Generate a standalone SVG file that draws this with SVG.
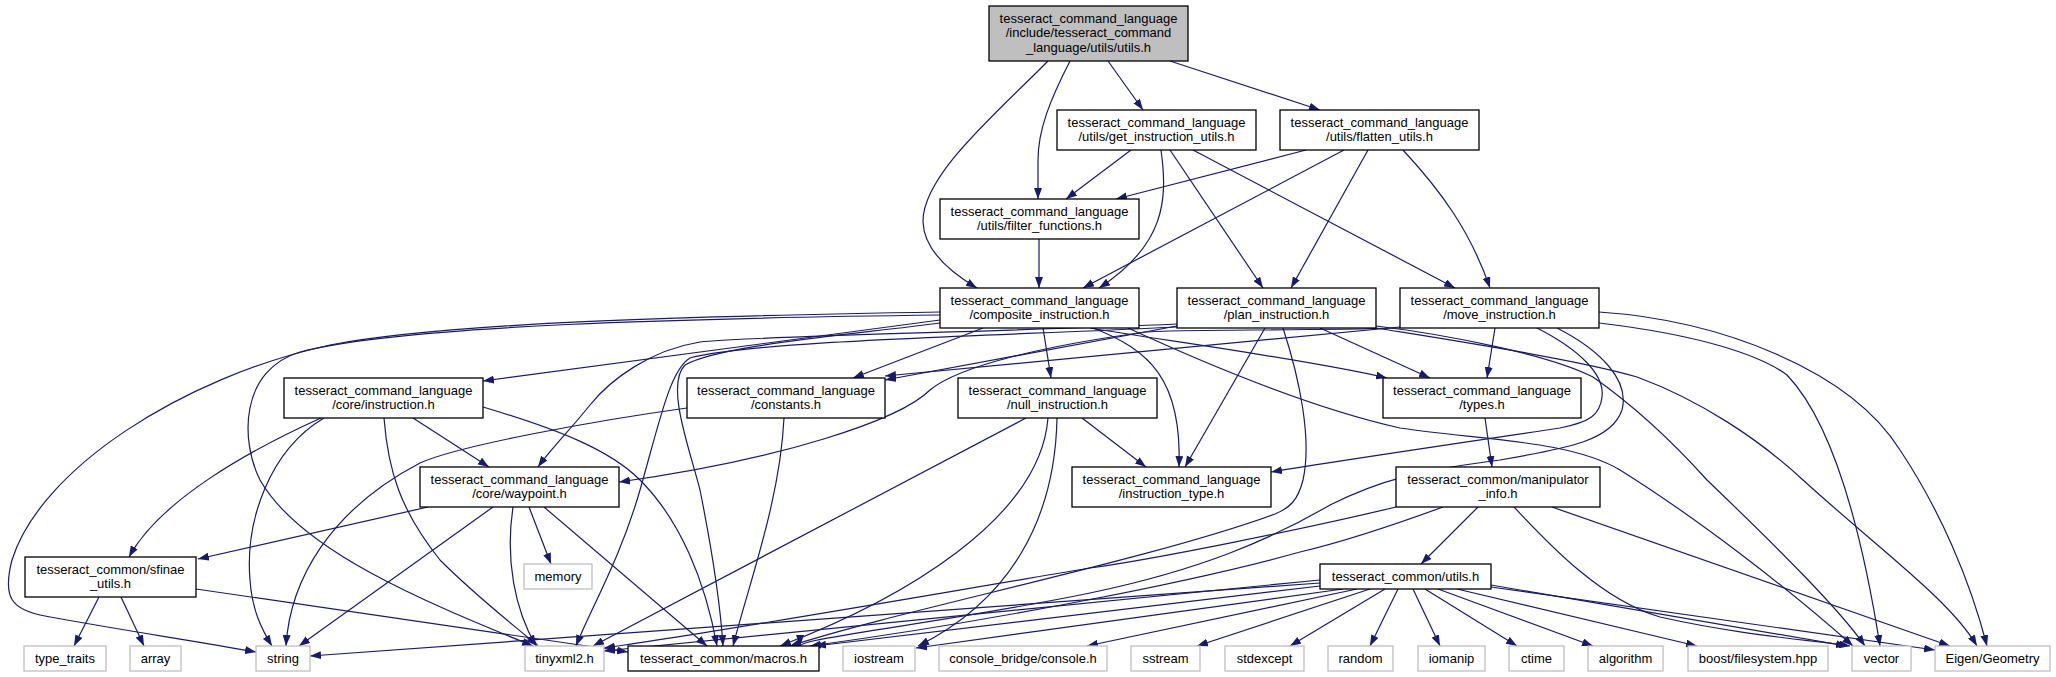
<svg xmlns="http://www.w3.org/2000/svg" width="2056" height="677" viewBox="0 0 2056 677">
<defs>
<marker id="ah" markerWidth="11" markerHeight="8" refX="11" refY="4" orient="auto" markerUnits="userSpaceOnUse"><path d="M0,0 L11,4 L0,8 z" fill="#191970"/></marker>
<style>
.n rect{fill:#fff;stroke:#000;stroke-width:1.3}
.g rect{fill:#fff;stroke:#bfbfbf;stroke-width:1.3}
.r rect{fill:#bfbfbf;stroke:#000;stroke-width:1.3}
text{font-family:"Liberation Sans",Arial,sans-serif;font-size:13px;fill:#000;text-anchor:middle}
#edges path{fill:none;stroke:#191970;stroke-width:1.2;marker-end:url(#ah)}
</style>
</defs>
<rect width="2056" height="677" fill="#fff"/>
<g id="edges">
<path d="M1048,61 C1000,110 922,175 923,222 C924,250 950,272 977,288"/>
<path d="M1070,61 C1050,100 1038,130 1038,160 L1038,199"/>
<path d="M1108,61 L1143,110"/>
<path d="M1170,61 L1320,110"/>
<path d="M1131,150 L1066,199"/>
<path d="M1161,150 C1168,200 1165,245 1099,288"/>
<path d="M1170,150 L1263,288"/>
<path d="M1193,150 L1455,288"/>
<path d="M1306,150 L1116,199"/>
<path d="M1344,150 L1083,288"/>
<path d="M1368,150 L1291,288"/>
<path d="M1403,150 C1440,190 1470,230 1490,288"/>
<path d="M1039,239 L1039,288"/>
<path d="M940,320 L483,381"/>
<path d="M983,328 L853,378"/>
<path d="M1043,328 L1051,378"/>
<path d="M1090,328 C1160,340 1300,358 1387,378"/>
<path d="M1093,328 C1150,350 1182,380 1179,467"/>
<path d="M940,312 C700,316 450,322 330,345 C180,378 40,470 12,560 C2,598 12,610 45,616 C120,630 190,640 256,652"/>
<path d="M940,315 C700,318 400,325 300,352 C240,370 240,440 260,480 C300,550 420,600 533,646"/>
<path d="M940,323 C850,335 720,345 685,365 C665,385 690,450 700,490 C712,550 720,600 723,646"/>
<path d="M1128,328 C1230,375 1320,410 1400,428 C1480,440 1570,440 1620,470 C1700,520 1790,590 1853,646"/>
<path d="M1320,328 L1430,378"/>
<path d="M1265,328 L1185,467"/>
<path d="M1177,326 L885,380"/>
<path d="M1177,324 C1000,332 750,336 700,342 C650,350 610,380 590,405 C570,430 550,450 538,467"/>
<path d="M1177,327 C1000,336 760,340 690,358 C670,370 660,420 640,490 C620,560 590,610 576,646"/>
<path d="M1283,328 C1300,380 1312,440 1303,480 C1298,500 1290,508 1275,514 C1150,560 900,610 790,646"/>
<path d="M1376,328 C1450,340 1580,360 1637,377 C1700,400 1760,440 1803,480 C1880,550 1950,600 1977,646"/>
<path d="M1376,326 C1450,335 1550,355 1593,377 C1640,410 1680,450 1707,480 C1780,550 1840,610 1865,646"/>
<path d="M1400,327 L885,376"/>
<path d="M1400,328 C1300,331 1180,329 1146,332 C1050,345 960,365 930,390 C900,420 780,460 619,482"/>
<path d="M1495,328 L1487,378"/>
<path d="M1537,328 C1580,350 1605,375 1602,397 C1600,415 1590,422 1560,428 C1480,440 1330,462 1271,472"/>
<path d="M1557,328 C1600,350 1630,380 1622,410 C1612,440 1570,448 1500,460 C1420,470 1380,480 1330,505 C1270,540 1200,570 1090,593 C950,622 800,638 800,646"/>
<path d="M1599,323 C1700,335 1760,355 1787,375 C1830,420 1860,520 1880,646"/>
<path d="M1599,312 C1720,320 1850,370 1900,450 C1940,510 1970,580 1987,646"/>
<path d="M1485,418 L1492,467"/>
<path d="M1048,418 C1040,520 900,600 780,646"/>
<path d="M1026,418 L593,646"/>
<path d="M1057,418 C1055,520 1010,600 918,646"/>
<path d="M1082,418 L1146,467"/>
<path d="M321,418 C250,450 160,500 129,557"/>
<path d="M324,418 C270,450 245,520 250,580 C252,610 262,630 272,646"/>
<path d="M384,418 C388,470 400,510 440,560 C480,600 520,630 538,646"/>
<path d="M413,418 L489,467"/>
<path d="M483,407 C560,430 610,450 640,480 C680,520 705,580 717,646"/>
<path d="M687,408 C600,420 460,445 420,463 C330,510 290,580 286,646"/>
<path d="M784,418 C780,500 750,580 733,646"/>
<path d="M428,507 L198,559"/>
<path d="M493,507 L299,646"/>
<path d="M513,507 C505,560 515,610 536,646"/>
<path d="M529,507 L551,564"/>
<path d="M544,507 L707,646"/>
<path d="M99,597 L74,646"/>
<path d="M121,597 L144,646"/>
<path d="M196,589 L628,652"/>
<path d="M1478,507 L1421,564"/>
<path d="M1396,507 C1300,530 1150,560 1090,568 C900,600 700,635 604,648"/>
<path d="M1443,507 C1380,530 1330,545 1300,552 C1200,580 1000,620 810,646"/>
<path d="M1514,507 C1545,540 1600,600 1660,617 C1740,635 1810,640 1850,646"/>
<path d="M1552,507 L1950,646"/>
<path d="M1320,583 L310,656"/>
<path d="M1320,580 L604,651"/>
<path d="M1320,586 L815,646"/>
<path d="M1343,589 L916,648"/>
<path d="M1357,589 L1087,646"/>
<path d="M1370,589 L1197,646"/>
<path d="M1385,589 L1290,646"/>
<path d="M1398,589 L1370,646"/>
<path d="M1413,589 L1440,646"/>
<path d="M1425,589 L1517,646"/>
<path d="M1438,589 L1593,646"/>
<path d="M1457,589 L1697,646"/>
<path d="M1491,585 L1847,646"/>
<path d="M1491,587 L1935,650"/>
</g>
<g id="root" class="r"><rect x="989" y="6" width="199" height="55"/><text x="1088.5" y="23">tesseract_command_language</text><text x="1088.5" y="37.3">/include/tesseract_command</text><text x="1088.5" y="51.6">_language/utils/utils.h</text></g>
<g id="get_instruction_utils" class="n"><rect x="1057" y="110" width="199" height="40"/><text x="1156.5" y="126.5">tesseract_command_language</text><text x="1156.5" y="141">/utils/get_instruction_utils.h</text></g>
<g id="flatten_utils" class="n"><rect x="1280" y="110" width="199" height="40"/><text x="1379.5" y="126.5">tesseract_command_language</text><text x="1379.5" y="141">/utils/flatten_utils.h</text></g>
<g id="filter_functions" class="n"><rect x="940" y="199" width="199" height="40"/><text x="1039.5" y="215.5">tesseract_command_language</text><text x="1039.5" y="230">/utils/filter_functions.h</text></g>
<g id="composite_instruction" class="n"><rect x="940" y="288" width="199" height="40"/><text x="1039.5" y="304.5">tesseract_command_language</text><text x="1039.5" y="319">/composite_instruction.h</text></g>
<g id="plan_instruction" class="n"><rect x="1177" y="288" width="199" height="40"/><text x="1276.5" y="304.5">tesseract_command_language</text><text x="1276.5" y="319">/plan_instruction.h</text></g>
<g id="move_instruction" class="n"><rect x="1400" y="288" width="199" height="40"/><text x="1499.5" y="304.5">tesseract_command_language</text><text x="1499.5" y="319">/move_instruction.h</text></g>
<g id="core_instruction" class="n"><rect x="284" y="378" width="199" height="40"/><text x="383.5" y="394.5">tesseract_command_language</text><text x="383.5" y="409">/core/instruction.h</text></g>
<g id="constants" class="n"><rect x="687" y="378" width="198" height="40"/><text x="786" y="394.5">tesseract_command_language</text><text x="786" y="409">/constants.h</text></g>
<g id="null_instruction" class="n"><rect x="958" y="378" width="199" height="40"/><text x="1057.5" y="394.5">tesseract_command_language</text><text x="1057.5" y="409">/null_instruction.h</text></g>
<g id="types" class="n"><rect x="1383" y="378" width="198" height="40"/><text x="1482" y="394.5">tesseract_command_language</text><text x="1482" y="409">/types.h</text></g>
<g id="waypoint" class="n"><rect x="420" y="467" width="199" height="40"/><text x="519.5" y="483.5">tesseract_command_language</text><text x="519.5" y="498">/core/waypoint.h</text></g>
<g id="instruction_type" class="n"><rect x="1072" y="467" width="199" height="40"/><text x="1171.5" y="483.5">tesseract_command_language</text><text x="1171.5" y="498">/instruction_type.h</text></g>
<g id="manipulator_info" class="n"><rect x="1396" y="467" width="204" height="40"/><text x="1498" y="483.5">tesseract_common/manipulator</text><text x="1498" y="498">_info.h</text></g>
<g id="sfinae_utils" class="n"><rect x="25" y="557" width="171" height="40"/><text x="110.5" y="573.5">tesseract_common/sfinae</text><text x="110.5" y="588">_utils.h</text></g>
<g id="memory" class="g"><rect x="524" y="564" width="68" height="25"/><text x="558" y="581">memory</text></g>
<g id="tc_utils" class="n"><rect x="1320" y="564" width="171" height="25"/><text x="1405.5" y="581">tesseract_common/utils.h</text></g>
<g id="type_traits" class="g"><rect x="24" y="646" width="82" height="25"/><text x="65" y="663">type_traits</text></g>
<g id="array" class="g"><rect x="130" y="646" width="51" height="25"/><text x="155.5" y="663">array</text></g>
<g id="string" class="g"><rect x="256" y="646" width="54" height="25"/><text x="283" y="663">string</text></g>
<g id="tinyxml2" class="g"><rect x="525" y="646" width="79" height="25"/><text x="564.5" y="663">tinyxml2.h</text></g>
<g id="macros" class="n"><rect x="628" y="646" width="191" height="25"/><text x="723.5" y="663">tesseract_common/macros.h</text></g>
<g id="iostream" class="g"><rect x="843" y="646" width="72" height="25"/><text x="879" y="663">iostream</text></g>
<g id="console" class="g"><rect x="939" y="646" width="168" height="25"/><text x="1023" y="663">console_bridge/console.h</text></g>
<g id="sstream" class="g"><rect x="1131" y="646" width="69" height="25"/><text x="1165.5" y="663">sstream</text></g>
<g id="stdexcept" class="g"><rect x="1225" y="646" width="79" height="25"/><text x="1264.5" y="663">stdexcept</text></g>
<g id="random" class="g"><rect x="1328" y="646" width="65" height="25"/><text x="1360.5" y="663">random</text></g>
<g id="iomanip" class="g"><rect x="1418" y="646" width="67" height="25"/><text x="1451.5" y="663">iomanip</text></g>
<g id="ctime" class="g"><rect x="1509" y="646" width="55" height="25"/><text x="1536.5" y="663">ctime</text></g>
<g id="algorithm" class="g"><rect x="1588" y="646" width="75" height="25"/><text x="1625.5" y="663">algorithm</text></g>
<g id="boost" class="g"><rect x="1688" y="646" width="140" height="25"/><text x="1758" y="663">boost/filesystem.hpp</text></g>
<g id="vector" class="g"><rect x="1852" y="646" width="59" height="25"/><text x="1881.5" y="663">vector</text></g>
<g id="eigen" class="g"><rect x="1935" y="646" width="115" height="25"/><text x="1992.5" y="663">Eigen/Geometry</text></g>
</svg>
